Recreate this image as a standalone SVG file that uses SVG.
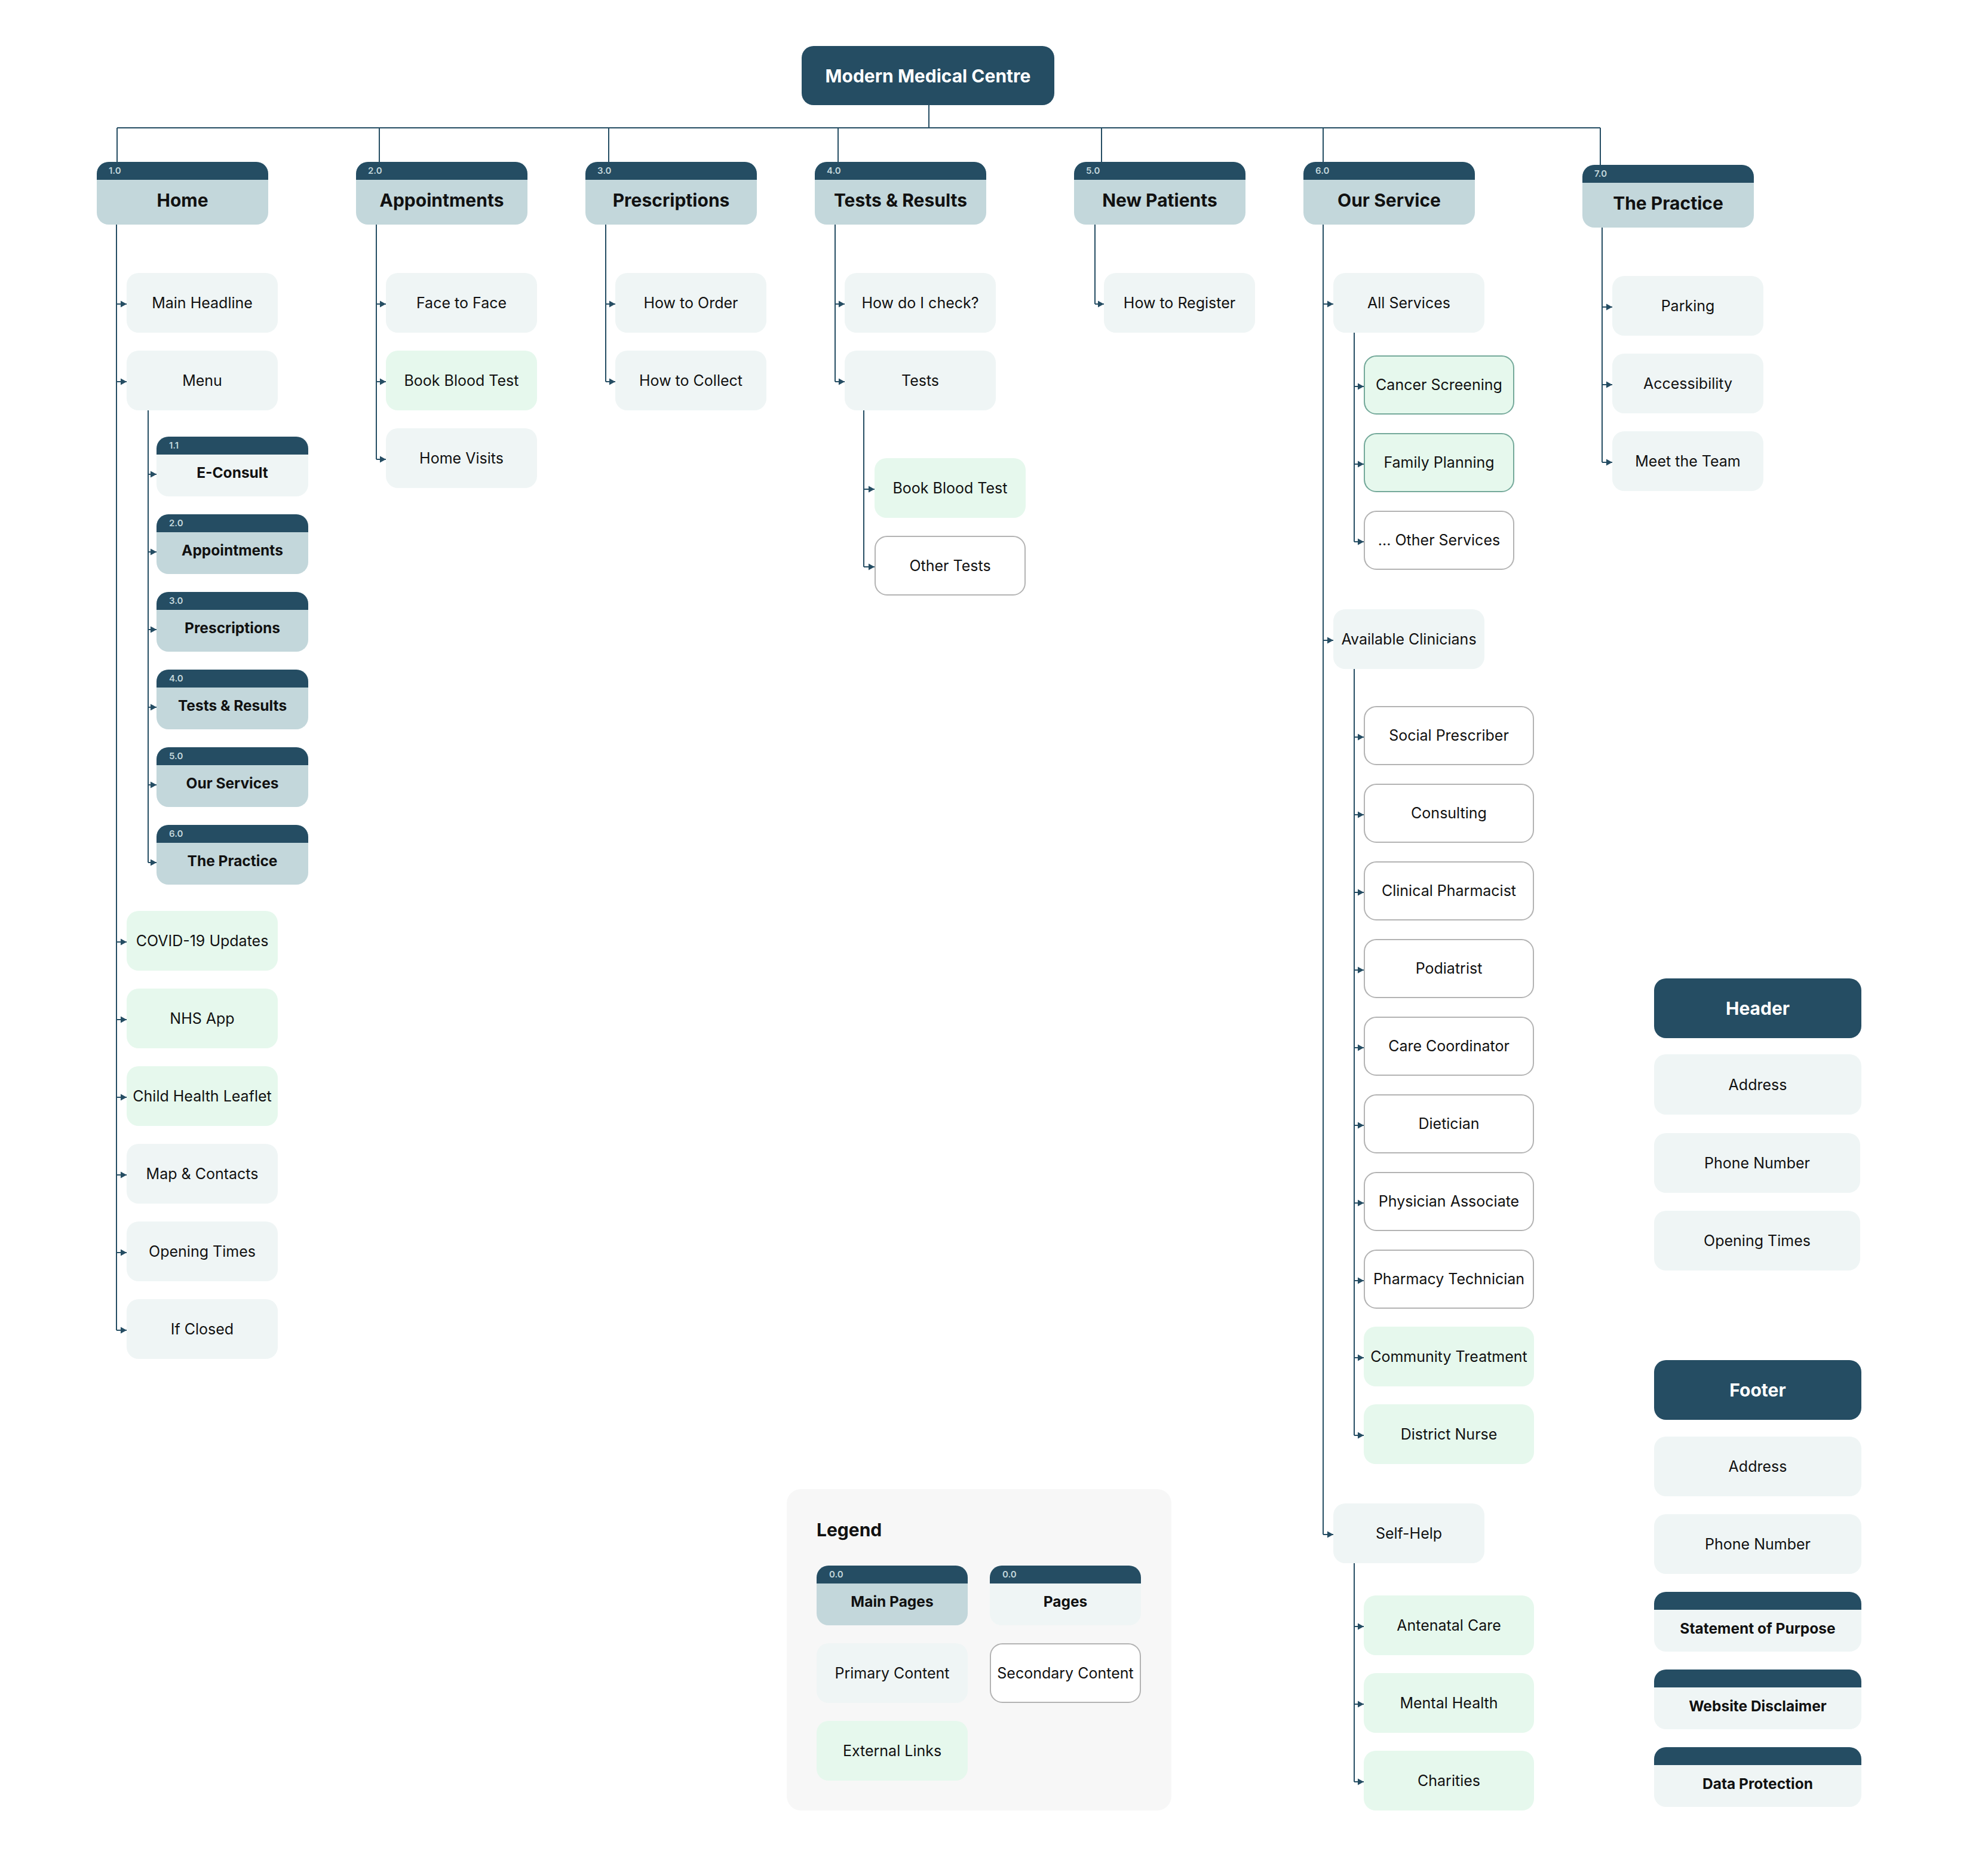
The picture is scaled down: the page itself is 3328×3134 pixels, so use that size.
<svg xmlns="http://www.w3.org/2000/svg" width="3328" height="3134" viewBox="0 0 3328 3134">
<defs>
<marker id="arr" markerUnits="userSpaceOnUse" markerWidth="10" markerHeight="12" viewBox="0 0 10 12" refX="10" refY="6" orient="auto"><path d="M0,0.5 L10,6 L0,11.5 Z" fill="#254D63"/></marker>
<style>
.nav{fill:#254D63}
.main{fill:#C3D7DB}
.light{fill:#EFF5F5}
.green{fill:#E6F8ED}
.gs{fill:#E6F8ED;stroke:#74A99A;stroke-width:2}
.ws{fill:#FFFFFF;stroke:#B3B3B3;stroke-width:2}
text{font-family:Inter,'Noto Sans','Liberation Sans',sans-serif;fill:#111111}
.t{font-size:25px;text-anchor:middle}
.tb{font-size:24.5px;font-weight:700;text-anchor:middle}
.th{font-size:30px;font-weight:700;text-anchor:middle}
.tl{font-size:15px;font-weight:600;fill:#C3D7DB}
.tw{fill:#FFFFFF}
.c{fill:none;stroke:#254D63;stroke-width:2}
.a{fill:none;stroke:#254D63;stroke-width:2;marker-end:url(#arr)}
</style>
</defs>
<rect width="3328" height="3134" fill="#FFFFFF"/>

<g id="connectors">
<path class="c" d="M1555,176 V214"/>
<path class="c" d="M196,214 H2679"/>
<path class="c" d="M196,214 V271 M635,214 V271 M1019,214 V271 M1403,214 V271 M1844,214 V271 M2215,214 V271 M2679,214 V276"/>
<path class="c" d="M195,376 V2227"/>
<path class="a" d="M195,509 H212"/><path class="a" d="M195,639 H212"/><path class="a" d="M195,1577 H212"/><path class="a" d="M195,1707 H212"/><path class="a" d="M195,1837 H212"/><path class="a" d="M195,1967 H212"/><path class="a" d="M195,2097 H212"/><path class="a" d="M195,2227 H212"/>
<path class="c" d="M248,687 V1444"/>
<path class="a" d="M248,794 H262"/><path class="a" d="M248,924 H262"/><path class="a" d="M248,1054 H262"/><path class="a" d="M248,1184 H262"/><path class="a" d="M248,1314 H262"/><path class="a" d="M248,1444 H262"/>
<path class="c" d="M630,376 V769"/>
<path class="a" d="M630,509 H646"/><path class="a" d="M630,639 H646"/><path class="a" d="M630,769 H646"/>
<path class="c" d="M1014,376 V639"/>
<path class="a" d="M1014,509 H1030"/><path class="a" d="M1014,639 H1030"/>
<path class="c" d="M1398,376 V639"/>
<path class="a" d="M1398,509 H1414"/><path class="a" d="M1398,639 H1414"/>
<path class="c" d="M1446,687 V949"/>
<path class="a" d="M1446,819 H1464"/><path class="a" d="M1446,949 H1464"/>
<path class="c" d="M1833,376 V509"/>
<path class="a" d="M1833,509 H1848"/>
<path class="c" d="M2215,376 V2569"/>
<path class="a" d="M2215,509 H2232"/><path class="a" d="M2215,1072 H2232"/><path class="a" d="M2215,2569 H2232"/>
<path class="c" d="M2267,557 V907"/>
<path class="a" d="M2267,647 H2283"/><path class="a" d="M2267,777 H2283"/><path class="a" d="M2267,907 H2283"/>
<path class="c" d="M2267,1120 V2403"/>
<path class="a" d="M2267,1234 H2283"/><path class="a" d="M2267,1364 H2283"/><path class="a" d="M2267,1494 H2283"/><path class="a" d="M2267,1624 H2283"/><path class="a" d="M2267,1754 H2283"/><path class="a" d="M2267,1884 H2283"/><path class="a" d="M2267,2014 H2283"/><path class="a" d="M2267,2144 H2283"/><path class="a" d="M2267,2273 H2283"/><path class="a" d="M2267,2403 H2283"/>
<path class="c" d="M2267,2617 V2983"/>
<path class="a" d="M2267,2723 H2283"/><path class="a" d="M2267,2853 H2283"/><path class="a" d="M2267,2983 H2283"/>
<path class="c" d="M2682,381 V774"/>
<path class="a" d="M2682,514 H2699"/><path class="a" d="M2682,644 H2699"/><path class="a" d="M2682,774 H2699"/>
</g>

<g id="root"><rect class="nav" x="1342" y="77" width="423" height="99" rx="20"/><text class="th tw" x="1553.5" y="138">Modern Medical Centre</text></g>

<g id="home"><rect class="main" x="162" y="271" width="287" height="105" rx="20"/><path class="nav" d="M162,301 V291 A20,20 0 0 1 182,271 H429 A20,20 0 0 1 449,291 V301 Z"/><text class="tl" x="182" y="291">1.0</text><text class="th" x="305.5" y="346">Home</text></g>
<g id="appointments"><rect class="main" x="596" y="271" width="287" height="105" rx="20"/><path class="nav" d="M596,301 V291 A20,20 0 0 1 616,271 H863 A20,20 0 0 1 883,291 V301 Z"/><text class="tl" x="616" y="291">2.0</text><text class="th" x="739.5" y="346">Appointments</text></g>
<g id="prescriptions"><rect class="main" x="980" y="271" width="287" height="105" rx="20"/><path class="nav" d="M980,301 V291 A20,20 0 0 1 1000,271 H1247 A20,20 0 0 1 1267,291 V301 Z"/><text class="tl" x="1000" y="291">3.0</text><text class="th" x="1123.5" y="346">Prescriptions</text></g>
<g id="tests"><rect class="main" x="1364" y="271" width="287" height="105" rx="20"/><path class="nav" d="M1364,301 V291 A20,20 0 0 1 1384,271 H1631 A20,20 0 0 1 1651,291 V301 Z"/><text class="tl" x="1384" y="291">4.0</text><text class="th" x="1507.5" y="346">Tests &amp; Results</text></g>
<g id="new-patients"><rect class="main" x="1798" y="271" width="287" height="105" rx="20"/><path class="nav" d="M1798,301 V291 A20,20 0 0 1 1818,271 H2065 A20,20 0 0 1 2085,291 V301 Z"/><text class="tl" x="1818" y="291">5.0</text><text class="th" x="1941.5" y="346">New Patients</text></g>
<g id="our-service"><rect class="main" x="2182" y="271" width="287" height="105" rx="20"/><path class="nav" d="M2182,301 V291 A20,20 0 0 1 2202,271 H2449 A20,20 0 0 1 2469,291 V301 Z"/><text class="tl" x="2202" y="291">6.0</text><text class="th" x="2325.5" y="346">Our Service</text></g>
<g id="the-practice"><rect class="main" x="2649" y="276" width="287" height="105" rx="20"/><path class="nav" d="M2649,306 V296 A20,20 0 0 1 2669,276 H2916 A20,20 0 0 1 2936,296 V306 Z"/><text class="tl" x="2669" y="296">7.0</text><text class="th" x="2792.5" y="351">The Practice</text></g>

<g id="home-main-headline"><rect class="light" x="212" y="457" width="253" height="100" rx="20"/><text class="t" x="338.5" y="516">Main Headline</text></g>
<g id="home-menu"><rect class="light" x="212" y="587" width="253" height="100" rx="20"/><text class="t" x="338.5" y="646">Menu</text></g>
<g id="menu-econsult"><rect class="light" x="262" y="731" width="254" height="100" rx="20"/><path class="nav" d="M262,761 V751 A20,20 0 0 1 282,731 H496 A20,20 0 0 1 516,751 V761 Z"/><text class="tl" x="283" y="751">1.1</text><text class="tb" x="389" y="800">E-Consult</text></g>
<g id="menu-appointments"><rect class="main" x="262" y="861" width="254" height="100" rx="20"/><path class="nav" d="M262,891 V881 A20,20 0 0 1 282,861 H496 A20,20 0 0 1 516,881 V891 Z"/><text class="tl" x="283" y="881">2.0</text><text class="tb" x="389" y="930">Appointments</text></g>
<g id="menu-prescriptions"><rect class="main" x="262" y="991" width="254" height="100" rx="20"/><path class="nav" d="M262,1021 V1011 A20,20 0 0 1 282,991 H496 A20,20 0 0 1 516,1011 V1021 Z"/><text class="tl" x="283" y="1011">3.0</text><text class="tb" x="389" y="1060">Prescriptions</text></g>
<g id="menu-tests"><rect class="main" x="262" y="1121" width="254" height="100" rx="20"/><path class="nav" d="M262,1151 V1141 A20,20 0 0 1 282,1121 H496 A20,20 0 0 1 516,1141 V1151 Z"/><text class="tl" x="283" y="1141">4.0</text><text class="tb" x="389" y="1190">Tests &amp; Results</text></g>
<g id="menu-our-services"><rect class="main" x="262" y="1251" width="254" height="100" rx="20"/><path class="nav" d="M262,1281 V1271 A20,20 0 0 1 282,1251 H496 A20,20 0 0 1 516,1271 V1281 Z"/><text class="tl" x="283" y="1271">5.0</text><text class="tb" x="389" y="1320">Our Services</text></g>
<g id="menu-the-practice"><rect class="main" x="262" y="1381" width="254" height="100" rx="20"/><path class="nav" d="M262,1411 V1401 A20,20 0 0 1 282,1381 H496 A20,20 0 0 1 516,1401 V1411 Z"/><text class="tl" x="283" y="1401">6.0</text><text class="tb" x="389" y="1450">The Practice</text></g>
<g id="home-covid"><rect class="green" x="212" y="1525" width="253" height="100" rx="20"/><text class="t" x="338.5" y="1584">COVID-19 Updates</text></g>
<g id="home-nhs-app"><rect class="green" x="212" y="1655" width="253" height="100" rx="20"/><text class="t" x="338.5" y="1714">NHS App</text></g>
<g id="home-child-health"><rect class="green" x="212" y="1785" width="253" height="100" rx="20"/><text class="t" x="338.5" y="1844">Child Health Leaflet</text></g>
<g id="home-map"><rect class="light" x="212" y="1915" width="253" height="100" rx="20"/><text class="t" x="338.5" y="1974">Map &amp; Contacts</text></g>
<g id="home-opening"><rect class="light" x="212" y="2045" width="253" height="100" rx="20"/><text class="t" x="338.5" y="2104">Opening Times</text></g>
<g id="home-if-closed"><rect class="light" x="212" y="2175" width="253" height="100" rx="20"/><text class="t" x="338.5" y="2234">If Closed</text></g>

<g id="appt-face"><rect class="light" x="646" y="457" width="253" height="100" rx="20"/><text class="t" x="772.5" y="516">Face to Face</text></g>
<g id="appt-blood"><rect class="green" x="646" y="587" width="253" height="100" rx="20"/><text class="t" x="772.5" y="646">Book Blood Test</text></g>
<g id="appt-home-visits"><rect class="light" x="646" y="717" width="253" height="100" rx="20"/><text class="t" x="772.5" y="776">Home Visits</text></g>

<g id="presc-order"><rect class="light" x="1030" y="457" width="253" height="100" rx="20"/><text class="t" x="1156.5" y="516">How to Order</text></g>
<g id="presc-collect"><rect class="light" x="1030" y="587" width="253" height="100" rx="20"/><text class="t" x="1156.5" y="646">How to Collect</text></g>

<g id="tests-check"><rect class="light" x="1414" y="457" width="253" height="100" rx="20"/><text class="t" x="1540.5" y="516">How do I check?</text></g>
<g id="tests-tests"><rect class="light" x="1414" y="587" width="253" height="100" rx="20"/><text class="t" x="1540.5" y="646">Tests</text></g>
<g id="tests-blood"><rect class="green" x="1464" y="767" width="253" height="100" rx="20"/><text class="t" x="1590.5" y="826">Book Blood Test</text></g>
<g id="tests-other"><rect class="ws" x="1465" y="898" width="251" height="98" rx="20"/><text class="t" x="1590.5" y="956">Other Tests</text></g>

<g id="np-register"><rect class="light" x="1848" y="457" width="253" height="100" rx="20"/><text class="t" x="1974.5" y="516">How to Register</text></g>

<g id="os-all"><rect class="light" x="2232" y="457" width="253" height="100" rx="20"/><text class="t" x="2358.5" y="516">All Services</text></g>
<g id="os-cancer"><rect class="gs" x="2284" y="596" width="250" height="97" rx="20"/><text class="t" x="2409" y="653">Cancer Screening</text></g>
<g id="os-family"><rect class="gs" x="2284" y="726" width="250" height="97" rx="20"/><text class="t" x="2409" y="783">Family Planning</text></g>
<g id="os-other"><rect class="ws" x="2284" y="856" width="250" height="97" rx="20"/><text class="t" x="2409" y="913">... Other Services</text></g>
<g id="os-clinicians"><rect class="light" x="2232" y="1020" width="253" height="100" rx="20"/><text class="t" x="2358.5" y="1079">Available Clinicians</text></g>
<g id="cl-social"><rect class="ws" x="2284" y="1183" width="283" height="97" rx="20"/><text class="t" x="2425.5" y="1240">Social Prescriber</text></g>
<g id="cl-consulting"><rect class="ws" x="2284" y="1313" width="283" height="97" rx="20"/><text class="t" x="2425.5" y="1370">Consulting</text></g>
<g id="cl-pharmacist"><rect class="ws" x="2284" y="1443" width="283" height="97" rx="20"/><text class="t" x="2425.5" y="1500">Clinical Pharmacist</text></g>
<g id="cl-podiatrist"><rect class="ws" x="2284" y="1573" width="283" height="97" rx="20"/><text class="t" x="2425.5" y="1630">Podiatrist</text></g>
<g id="cl-care"><rect class="ws" x="2284" y="1703" width="283" height="97" rx="20"/><text class="t" x="2425.5" y="1760">Care Coordinator</text></g>
<g id="cl-dietician"><rect class="ws" x="2284" y="1833" width="283" height="97" rx="20"/><text class="t" x="2425.5" y="1890">Dietician</text></g>
<g id="cl-physician"><rect class="ws" x="2284" y="1963" width="283" height="97" rx="20"/><text class="t" x="2425.5" y="2020">Physician Associate</text></g>
<g id="cl-technician"><rect class="ws" x="2284" y="2093" width="283" height="97" rx="20"/><text class="t" x="2425.5" y="2150">Pharmacy Technician</text></g>
<g id="cl-community"><rect class="green" x="2283" y="2221" width="285" height="100" rx="20"/><text class="t" x="2425.5" y="2280">Community Treatment</text></g>
<g id="cl-district"><rect class="green" x="2283" y="2351" width="285" height="100" rx="20"/><text class="t" x="2425.5" y="2410">District Nurse</text></g>
<g id="os-self-help"><rect class="light" x="2232" y="2517" width="253" height="100" rx="20"/><text class="t" x="2358.5" y="2576">Self-Help</text></g>
<g id="sh-antenatal"><rect class="green" x="2283" y="2671" width="285" height="100" rx="20"/><text class="t" x="2425.5" y="2730">Antenatal Care</text></g>
<g id="sh-mental"><rect class="green" x="2283" y="2801" width="285" height="100" rx="20"/><text class="t" x="2425.5" y="2860">Mental Health</text></g>
<g id="sh-charities"><rect class="green" x="2283" y="2931" width="285" height="100" rx="20"/><text class="t" x="2425.5" y="2990">Charities</text></g>

<g id="tp-parking"><rect class="light" x="2699" y="462" width="253" height="100" rx="20"/><text class="t" x="2825.5" y="521">Parking</text></g>
<g id="tp-access"><rect class="light" x="2699" y="592" width="253" height="100" rx="20"/><text class="t" x="2825.5" y="651">Accessibility</text></g>
<g id="tp-team"><rect class="light" x="2699" y="722" width="253" height="100" rx="20"/><text class="t" x="2825.5" y="781">Meet the Team</text></g>

<g id="header"><rect class="nav" x="2769" y="1638" width="347" height="100" rx="20"/><text class="th tw" x="2942.5" y="1699">Header</text></g>
<g id="header-address"><rect class="light" x="2769" y="1765" width="347" height="101" rx="20"/><text class="t" x="2942.5" y="1825">Address</text></g>
<g id="header-phone"><rect class="light" x="2769" y="1897" width="345" height="100" rx="20"/><text class="t" x="2941.5" y="1956">Phone Number</text></g>
<g id="header-opening"><rect class="light" x="2769" y="2027" width="345" height="100" rx="20"/><text class="t" x="2941.5" y="2086">Opening Times</text></g>

<g id="footer"><rect class="nav" x="2769" y="2277" width="347" height="100" rx="20"/><text class="th tw" x="2942.5" y="2338">Footer</text></g>
<g id="footer-address"><rect class="light" x="2769" y="2405" width="347" height="100" rx="20"/><text class="t" x="2942.5" y="2464">Address</text></g>
<g id="footer-phone"><rect class="light" x="2769" y="2535" width="347" height="100" rx="20"/><text class="t" x="2942.5" y="2594">Phone Number</text></g>
<g id="footer-statement"><rect class="light" x="2769" y="2665" width="347" height="100" rx="20"/><path class="nav" d="M2769,2695 V2685 A20,20 0 0 1 2789,2665 H3096 A20,20 0 0 1 3116,2685 V2695 Z"/><text class="tb" x="2942.5" y="2735">Statement of Purpose</text></g>
<g id="footer-disclaimer"><rect class="light" x="2769" y="2795" width="347" height="100" rx="20"/><path class="nav" d="M2769,2825 V2815 A20,20 0 0 1 2789,2795 H3096 A20,20 0 0 1 3116,2815 V2825 Z"/><text class="tb" x="2942.5" y="2865">Website Disclaimer</text></g>
<g id="footer-data"><rect class="light" x="2769" y="2925" width="347" height="100" rx="20"/><path class="nav" d="M2769,2955 V2945 A20,20 0 0 1 2789,2925 H3096 A20,20 0 0 1 3116,2945 V2955 Z"/><text class="tb" x="2942.5" y="2995">Data Protection</text></g>

<g id="legend">
<rect x="1317" y="2493" width="644" height="538" rx="24" fill="#F7F7F7"/>
<text x="1367" y="2572" style="font-size:30px;font-weight:700">Legend</text>
<rect class="main" x="1367" y="2621" width="253" height="100" rx="20"/><path class="nav" d="M1367,2651 V2641 A20,20 0 0 1 1387,2621 H1600 A20,20 0 0 1 1620,2641 V2651 Z"/><text class="tl" x="1388" y="2641">0.0</text><text class="tb" x="1493.5" y="2690">Main Pages</text>
<rect class="light" x="1657" y="2621" width="253" height="100" rx="20"/><path class="nav" d="M1657,2651 V2641 A20,20 0 0 1 1677,2621 H1890 A20,20 0 0 1 1910,2641 V2651 Z"/><text class="tl" x="1678" y="2641">0.0</text><text class="tb" x="1783.5" y="2690">Pages</text>
<rect class="light" x="1367" y="2751" width="253" height="100" rx="20"/><text class="t" x="1493.5" y="2810">Primary Content</text>
<rect class="ws" x="1658" y="2752" width="251" height="98" rx="20"/><text class="t" x="1783.5" y="2810">Secondary Content</text>
<rect class="green" x="1367" y="2881" width="253" height="100" rx="20"/><text class="t" x="1493.5" y="2940">External Links</text>
</g>
</svg>
